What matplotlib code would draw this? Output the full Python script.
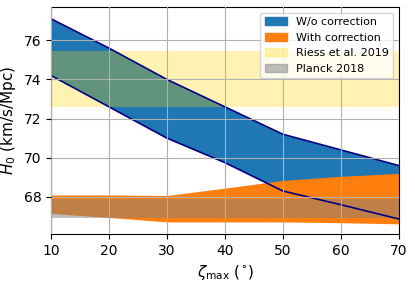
import numpy as np
import matplotlib
matplotlib.use("Agg")
import matplotlib.pyplot as plt
from matplotlib.patches import Patch

# zeta_max grid and H0 bands
zeta = [10, 20, 30, 40, 50, 60, 70]
h0_wo_hi = [77.1, 75.6, 74.0, 72.6, 71.2, 70.4, 69.6]
h0_wo_lo = [74.2, 72.6, 71.0, 69.75, 68.3, 67.6, 66.87]
h0_w_hi = [68.1, 68.1, 68.07, 68.45, 68.84, 69.05, 69.2]
h0_w_lo = [67.15, 66.95, 66.72, 66.72, 66.72, 66.68, 66.62]
riess = (74.03, 1.42)
planck = (67.4, 0.5)

fig = plt.figure(figsize=(4.15, 2.82), dpi=100)
ax = fig.add_axes([0.123, 0.17, 0.838, 0.805])

ax.fill_between(zeta, h0_wo_lo, h0_wo_hi, color='tab:blue', lw=0)
ax.fill_between(zeta, h0_w_lo, h0_w_hi, color='tab:orange', lw=0)
ax.plot(zeta, h0_wo_hi, color='navy', lw=1.2)
ax.plot(zeta, h0_wo_lo, color='navy', lw=1.2)
ax.axhspan(riess[0] - riess[1], riess[0] + riess[1], color='gold', alpha=0.3, lw=0)
ax.axhspan(planck[0] - planck[1], planck[0] + planck[1], color='gray', alpha=0.5, lw=0)

ax.set_xlim(10, 70)
ax.set_ylim(66.1, 77.7)
ax.set_yticks([68, 70, 72, 74, 76])
ax.grid(True, color='#b0b0b0', lw=0.8)
ax.set_axisbelow(False)
ax.set_xlabel(r'$\zeta_{\max}$ ($^{\circ}$)', fontsize=11)
ax.set_ylabel(r'$H_0$ (km/s/Mpc)', fontsize=11)
ax.tick_params(labelsize=10)

handles = [Patch(color='tab:blue', label='W/o correction'),
           Patch(color='tab:orange', label='With correction'),
           Patch(color='gold', alpha=0.3, label='Riess et al. 2019'),
           Patch(color='gray', alpha=0.5, label='Planck 2018')]
ax.legend(handles=handles, loc='upper right', fontsize=8)

fig.savefig('out.png', dpi=100)
